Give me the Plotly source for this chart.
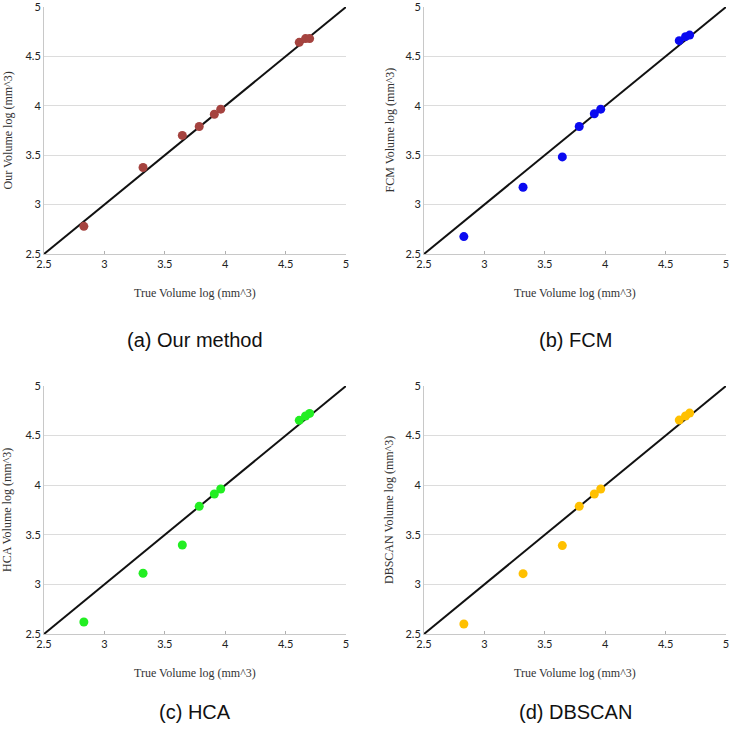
import plotly.graph_objects as go

true_vol = [2.83, 3.32, 3.645, 3.785, 3.91, 3.963, 4.613, 4.665, 4.699]
ours = [2.78, 3.375, 3.70, 3.79, 3.915, 3.966, 4.642, 4.68, 4.68]
fcm = [2.676, 3.176, 3.483, 3.79, 3.92, 3.966, 4.659, 4.70, 4.716]
hca = [2.621, 3.112, 3.397, 3.787, 3.911, 3.962, 4.654, 4.698, 4.724]
dbscan = [2.601, 3.108, 3.391, 3.787, 3.911, 3.962, 4.656, 4.698, 4.727]

panels = [
    ("ours", ours, "#a5433f", "Our Volume log (mm^3)", "(a) Our method"),
    ("fcm", fcm, "#0a0af0", "FCM Volume log (mm^3)", "(b) FCM"),
    ("hca", hca, "#22ee22", "HCA Volume log (mm^3)", "(c) HCA"),
    ("dbscan", dbscan, "#ffc000", "DBSCAN Volume log (mm^3)", "(d) DBSCAN"),
]
diag = [2.5, 5]
ticks = [2.5, 3, 3.5, 4, 4.5, 5]
tick_text = ["2.5", "3", "3.5", "4", "4.5", "5"]

W, H = 732, 734
# pixel boxes: (left, right, top, bottom)
boxes = [(44, 346, 7, 254), (424, 726, 7, 254), (44, 346, 386, 634), (424, 726, 386, 634)]
ytitle_x = [7, 389, 7, 389]
caption_y = [340, 340, 712, 712]

fig = go.Figure()
annotations = []
for i, ((name, vals, color, ytitle, caption), (l, r, t, b)) in enumerate(zip(panels, boxes)):
    k = "" if i == 0 else str(i + 1)
    xa, ya = "x" + k, "y" + k
    fig.add_trace(go.Scatter(x=diag, y=diag, mode="lines", line=dict(color="#111111", width=2),
                             xaxis=xa, yaxis=ya, showlegend=False, hoverinfo="skip", cliponaxis=False))
    fig.add_trace(go.Scatter(x=true_vol, y=vals, mode="markers", name=name,
                             marker=dict(color=color, size=9), xaxis=xa, yaxis=ya, showlegend=False))
    axis_common = dict(range=[2.5, 5], tickvals=ticks, ticktext=tick_text, automargin=False,
                       ticklabeloverflow="allow",
                       tickfont=dict(family="Lato, Open Sans, sans-serif", size=11, color="#222222"),
                       showline=True, linecolor="#c8c8c8", linewidth=1, zeroline=False, fixedrange=True)
    fig.layout["xaxis" + k] = dict(axis_common, domain=[l / W, r / W], anchor=ya, showgrid=False,
                                   ticks="inside", ticklen=3, tickcolor="#b0b0b0")
    fig.layout["yaxis" + k] = dict(axis_common, domain=[1 - b / H, 1 - t / H], anchor=xa, showgrid=True,
                                   gridcolor="#dcdcdc", gridwidth=1, ticks="")
    annotations.append(dict(text="True Volume log (mm^3)", x=(l + r) / 2 / W, y=1 - (b + 39) / H,
                            xref="paper", yref="paper", showarrow=False, xanchor="center", yanchor="middle",
                            font=dict(family="Liberation Serif, Times New Roman, serif", size=12, color="#333333")))
    annotations.append(dict(text=ytitle, x=ytitle_x[i] / W, y=1 - (t + b) / 2 / H,
                            xref="paper", yref="paper", showarrow=False, textangle=-90,
                            xanchor="center", yanchor="middle",
                            font=dict(family="Liberation Serif, Times New Roman, serif", size=12, color="#333333")))
    annotations.append(dict(text=caption, x=(l + r) / 2 / W, y=1 - caption_y[i] / H,
                            xref="paper", yref="paper", showarrow=False, xanchor="center", yanchor="middle",
                            font=dict(family="Liberation Sans, Arial, sans-serif", size=20, color="#111111")))

fig.update_layout(width=W, height=H, margin=dict(l=0, r=0, t=0, b=0, autoexpand=False),
                  paper_bgcolor="white", plot_bgcolor="white", annotations=annotations)
fig.write_html("out.html", config={"displayModeBar": False},
               post_script="document.body.style.margin='0';document.body.style.overflow='hidden';")
